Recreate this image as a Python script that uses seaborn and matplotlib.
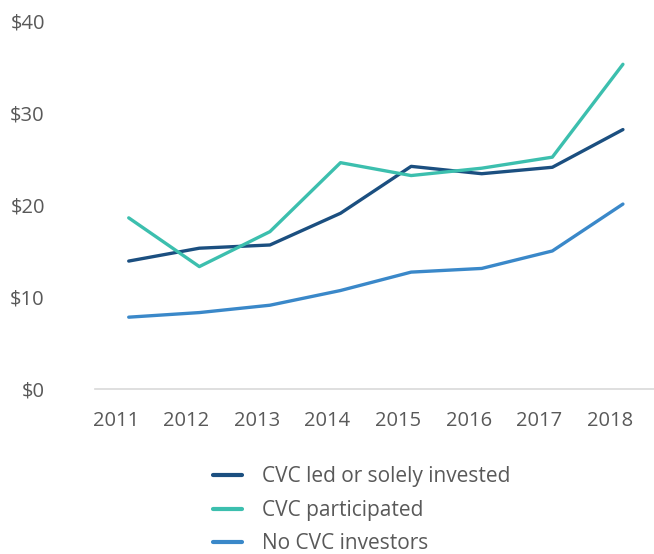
import pandas as pd
import matplotlib.pyplot as plt
import matplotlib.transforms as mtransforms
import seaborn as sns

years = [2011, 2012, 2013, 2014, 2015, 2016, 2017, 2018]
cvc_led = [13.9, 15.3, 15.65, 19.1, 24.2, 23.4, 24.1, 28.2]
cvc_participated = [18.6, 13.3, 17.1, 24.6, 23.2, 24.0, 25.2, 35.3]
no_cvc = [7.8, 8.3, 9.1, 10.7, 12.7, 13.1, 15.0, 20.1]

series_names = ['CVC led or solely invested', 'CVC participated', 'No CVC investors']
colors = ['#1b4f80', '#3cbfae', '#3a88c9']
y_ticks = [0, 10, 20, 30, 40]
y_labels = ['$0', '$10', '$20', '$30', '$40']


def main():
    df = pd.DataFrame({
        'year': years * 3,
        'value': cvc_led + cvc_participated + no_cvc,
        'series': [series_names[0]] * 8 + [series_names[1]] * 8 + [series_names[2]] * 8,
    })

    sns.set_theme(style="white")
    plt.rcParams['font.family'] = ['Open Sans', 'DejaVu Sans']
    text_color = '#595959'

    fig = plt.figure(figsize=(6.54, 5.54), dpi=100)
    ax = fig.add_axes([0.145, 0.298, 0.855, 0.664])
    sns.lineplot(data=df, x='year', y='value', hue='series', palette=colors,
                 hue_order=series_names, linewidth=2.4, ax=ax, legend=False)

    ax.set_xlim(2010.52, 2018.44)
    ax.set_ylim(0, 40)
    ax.set_xticks(years)
    ax.set_xticklabels([str(y) for y in years], fontsize=14.5, color=text_color)
    ax.set_yticks(y_ticks)
    ax.set_yticklabels(y_labels, fontsize=14.5, color=text_color)
    ax.tick_params(axis='x', length=0, pad=16)
    ax.tick_params(axis='y', length=0, pad=36)
    # category labels in the original sit a bit left of the data points
    shift = mtransforms.ScaledTranslation(-13 / 100, 0, fig.dpi_scale_trans)
    for lbl in ax.get_xticklabels():
        lbl.set_transform(lbl.get_transform() + shift)
    ax.set_xlabel('')
    ax.set_ylabel('')
    for side in ['top', 'right', 'left']:
        ax.spines[side].set_visible(False)
    ax.spines['bottom'].set_color('#d9d9d9')
    ax.spines['bottom'].set_linewidth(1.2)

    handles = [plt.Line2D([], [], color=c, linewidth=3) for c in colors]
    fig.legend(handles, series_names, loc='upper left', bbox_to_anchor=(0.326, 0.158),
               frameon=False, fontsize=15, labelcolor=text_color, borderpad=0,
               borderaxespad=0, handlelength=1.4, handletextpad=0.95, labelspacing=0.6)

    fig.savefig('out.png', dpi=100)
    plt.close(fig)


if __name__ == "__main__":
    main()
